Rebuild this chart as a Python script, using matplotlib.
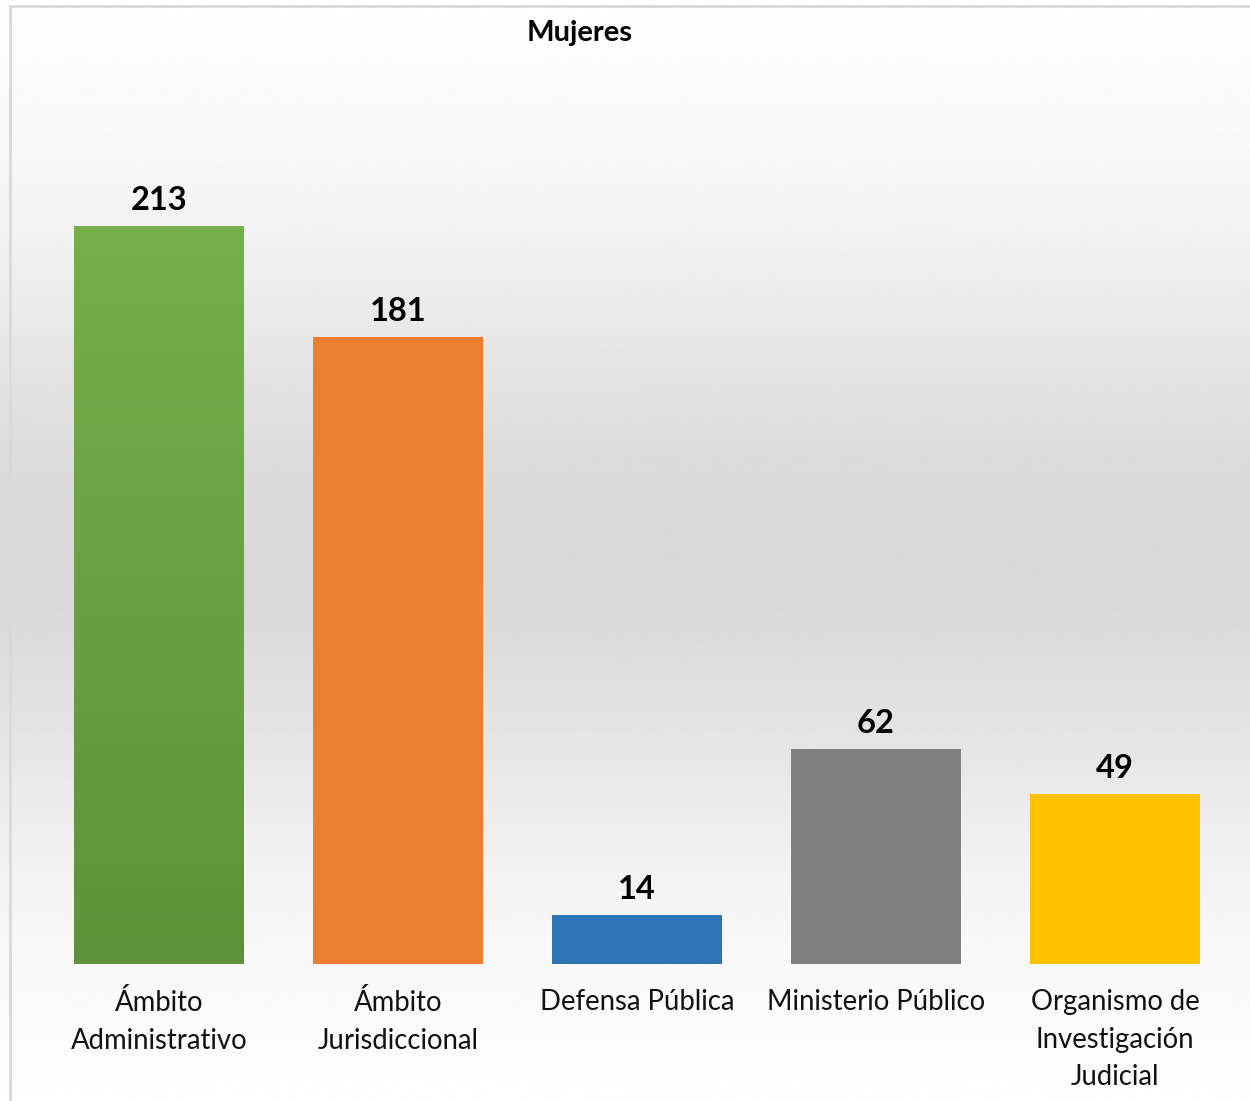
import matplotlib.pyplot as plt
import numpy as np
from matplotlib.colors import LinearSegmentedColormap
from matplotlib.patches import Rectangle

categorias = ["Ámbito\nAdministrativo", "Ámbito\nJurisdiccional", "Defensa Pública",
              "Ministerio Público", "Organismo de\nInvestigación\nJudicial"]
valores = [213, 181, 14, 62, 49]
colores = ["#6aa744", "#ed7d31", "#2e75b6", "#808080", "#ffc000"]

plt.rcParams['font.family'] = ['Lato', 'DejaVu Sans']

W, H = 1250, 1101
fig = plt.figure(figsize=(W / 100, H / 100), dpi=100)

# fondo con degradado vertical
bg = fig.add_axes([0, 0, 1, 1], zorder=0)
bg.axis('off')
g = np.linspace(0, 1, 400)
shade = 1 - 0.15 * np.exp(-((g - 0.5) / 0.28) ** 2)
bg.imshow(shade.reshape(-1, 1), cmap='gray', vmin=0, vmax=1,
          aspect='auto', extent=[0, 1, 0, 1], origin='upper')
bg.set_xlim(0, 1)
bg.set_ylim(0, 1)
bg.add_patch(Rectangle((10 / W, -0.01), 1.1, 1 - 6 / H + 0.01, fill=False,
                       edgecolor='#d9d9d9', linewidth=2, transform=bg.transAxes))

left, right = 39.5, 1234.5
base, top = 964, 60
ax = fig.add_axes([left / W, (H - base) / H, (right - left) / W, (base - top) / H], zorder=1)
ax.patch.set_alpha(0)
x = np.arange(len(valores))
ax.set_xlim(-0.5, len(valores) - 0.5)
px_per_unit = (964 - 226) / 213
ax.set_ylim(0, (base - top) / px_per_unit)
bars = ax.bar(x, valores, width=0.711, color=colores, zorder=2)

# degradado en la barra verde
b0 = bars[0]
cmap = LinearSegmentedColormap.from_list('verde', ['#5e923a', '#75b04a'])
grad = np.linspace(0, 1, 256).reshape(-1, 1)
im = ax.imshow(grad, cmap=cmap, origin='lower', aspect='auto', zorder=3,
               extent=[b0.get_x(), b0.get_x() + b0.get_width(), 0, b0.get_height()])
im.set_clip_path(b0)

for xi, v in zip(x, valores):
    ax.text(xi, v + 16 / px_per_unit, str(v), ha='center', va='baseline',
            fontsize=23.5, fontweight='bold', color='black', zorder=4)

for xi, c in zip(x, categorias):
    ax.text(xi, -25 / px_per_unit, c, ha='center', va='top', fontsize=19.8,
            color='#111111', linespacing=1.55)

for s in ax.spines.values():
    s.set_visible(False)
ax.set_xticks([])
ax.set_yticks([])

fig.text(580 / W, 1 - 33 / H, "Mujeres", ha='center', va='center', fontsize=21, fontweight='bold')

fig.savefig("out.png", dpi=100)
